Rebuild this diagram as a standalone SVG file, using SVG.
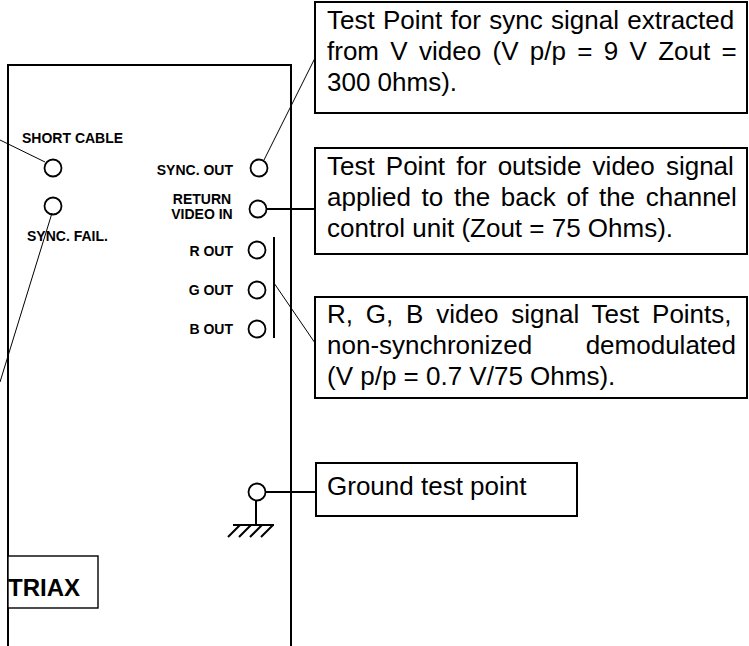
<svg xmlns="http://www.w3.org/2000/svg" width="749" height="646" viewBox="0 0 749 646">
<style>
.bg{fill:#fff}
.edge{fill:none;stroke:#000;stroke-width:2}
.box{fill:#fff;stroke:#000;stroke-width:2}
.tp{fill:#fff;stroke:#000;stroke-width:1.8}
.thin{fill:none;stroke:#000;stroke-width:1}
.thick{fill:none;stroke:#000;stroke-width:2}
.lbl{font-family:"Liberation Sans",Arial,sans-serif;font-weight:bold;font-size:14px;fill:#000}
.txt{font-family:"Liberation Sans",Arial,sans-serif;font-size:26px;fill:#000}
.end{text-anchor:end}
.mid{text-anchor:middle}
</style>
<rect class="bg" x="0" y="0" width="749" height="646"/>
<g id="panel">
<polyline class="edge" points="8,646 8,65 291,65 291,646"/>
</g>
<g id="triax">
<rect x="8" y="556" width="90" height="52" fill="#fff" stroke="#000" stroke-width="1.4"/>
<text class="lbl" x="8" y="596" style="font-size:24px">TRIAX</text>
</g>
<g id="short-cable">
<text class="lbl" x="22" y="143">SHORT CABLE</text>
<circle class="tp" cx="53" cy="168" r="8.5"/>
</g>
<g id="sync-fail">
<circle class="tp" cx="53" cy="206" r="8.5"/>
<text class="lbl" x="27" y="241">SYNC. FAIL.</text>
</g>
<g id="sync-out">
<text class="lbl end" x="233" y="175">SYNC. OUT</text>
<circle class="tp" cx="259" cy="168" r="8.5"/>
</g>
<g id="return-video-in">
<text class="lbl mid" x="202" y="204">RETURN</text>
<text class="lbl mid" x="202" y="219">VIDEO IN</text>
<circle class="tp" cx="258" cy="209" r="8.5"/>
</g>
<g id="r-out">
<text class="lbl end" x="233" y="256">R OUT</text>
<circle class="tp" cx="257" cy="250" r="8.5"/>
</g>
<g id="g-out">
<text class="lbl end" x="233" y="295">G OUT</text>
<circle class="tp" cx="257" cy="290" r="8.5"/>
</g>
<g id="b-out">
<text class="lbl end" x="233" y="334">B OUT</text>
<circle class="tp" cx="257" cy="329" r="8.5"/>
</g>
<g id="ground">
<line class="thick" x1="256" y1="500" x2="256" y2="525"/>
<line class="thick" x1="233" y1="525" x2="274" y2="525"/>
<path class="thick" d="M240,525 L228,537 M251,525 L239,537 M262,525 L250,537 M273,525 L261,537"/>
<circle class="tp" cx="257" cy="492" r="8.5"/>
</g>
<g id="connectors">
<line class="thin" x1="0" y1="140" x2="45" y2="162"/>
<line class="thin" x1="52" y1="213" x2="0" y2="382"/>
<line class="thin" x1="264" y1="160" x2="315" y2="58"/>
<line class="thick" x1="266.5" y1="209" x2="315" y2="209"/>
<line class="thick" x1="274" y1="237" x2="274" y2="338"/>
<line class="thin" x1="274" y1="283" x2="315" y2="343"/>
<line class="thick" x1="265.5" y1="492" x2="316" y2="492"/>
</g>
<g id="note-sync">
<rect class="box" x="315" y="2" width="432" height="111"/>
<text class="txt" x="327" y="29" word-spacing="1.1">Test Point for sync signal extracted</text>
<text class="txt" x="327" y="60" word-spacing="4.1">from V video (V p/p = 9 V Zout =</text>
<text class="txt" x="327" y="91">300 0hms).</text>
</g>
<g id="note-return">
<rect class="box" x="315" y="148" width="432" height="106"/>
<text class="txt" x="327" y="175" word-spacing="3.9">Test Point for outside video signal</text>
<text class="txt" x="327" y="206" word-spacing="3.5">applied to the back of the channel</text>
<text class="txt" x="327" y="237">control unit (Zout = 75 Ohms).</text>
</g>
<g id="note-rgb">
<rect class="box" x="315" y="297" width="432" height="101"/>
<text class="txt" x="327" y="323" word-spacing="5.6">R, G, B video signal Test Points,</text>
<text class="txt" x="327" y="354">non-synchronized</text>
<text class="txt end" x="736" y="354">demodulated</text>
<text class="txt" x="327" y="385">(V p/p = 0.7 V/75 Ohms).</text>
</g>
<g id="note-ground">
<rect class="box" x="316" y="463" width="261" height="53"/>
<text class="txt" x="327" y="495">Ground test point</text>
</g>
</svg>
